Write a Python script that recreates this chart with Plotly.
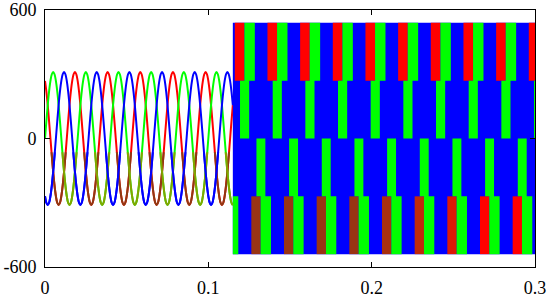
import plotly.graph_objects as go

# ---------------- data ----------------
# one 50 Hz cycle of the phase voltage, sampled every 15 degrees (V)
CYCLE_SAMPLES = [0, 80, 156, 220, 269, 300, 311, 300, 269, 220, 156, 80,
                 0, -80, -156, -220, -269, -300, -311, -300, -269, -220, -156, -80]
PERIOD = 0.02            # s
SINE_END = 0.115         # s, end of the sinusoidal part
PHASE_SHIFT_STEPS = {"green": 0, "blue": -8, "red": 8}   # 120 degree shifts (in samples)
DARK_BELOW = -64         # below this level the picture shows darkened red / green

# switching part
PWM_START = 0.115
PWM_END = 0.3
PWM_LEVEL_TOP = 540
PWM_FIRST_EDGE = 0.1162  # first rising edge of red top block
# blocks inside one period: (band low, band high, start fraction, end fraction)
RED_LO = [270, -540]
RED_HI = [540, -270]
RED_F0 = [0.0, 0.506]
RED_F1 = [0.294, 0.791]
GREEN_LO = [270, 0, -270, -540]
GREEN_HI = [540, 270, 0, -270]
GREEN_F0 = [0.294, 0.16, 0.663, 0.791]
GREEN_F1 = [0.613, 0.44, 0.936, 1.107]
# colour of the lowest red block, period by period (brownish in the early periods)
LOW_RED_COLORS = ["#9a3414", "#9a3414", "#9a3414", "#9a3414", "#a8300f",
                  "#c02a0c", "#dc1a06", "#ff0000", "#ff0000", "#ff0000"]

X_TICKS = [0, 0.1, 0.2, 0.3]
X_TICK_TEXT = ["0", "0.1", "0.2", "0.3"]
Y_TICKS = [-600, 0, 600]
Y_TICK_TEXT = ["-600", "0", "600"]

COLORS = {"red": "#ff0000", "green": "#00ff00", "blue": "#0000ff"}
DARK_COLORS = {"red": "#8e3a12", "green": "#84a400", "blue": "#0000ff"}

# ---------------- build figure ----------------
fig = go.Figure()

n_steps = len(CYCLE_SAMPLES)
dt = PERIOD / n_steps
n_total = int(round(SINE_END / dt))
sine = {}
for name in ["red", "green", "blue"]:
    sh = PHASE_SHIFT_STEPS[name]
    xs = [i * dt for i in range(n_total + 1)]
    ys = [CYCLE_SAMPLES[(i + sh) % n_steps] for i in range(n_total + 1)]
    sine[name] = (xs, ys)
    fig.add_trace(go.Scatter(x=xs, y=ys, mode="lines",
                             line=dict(color=COLORS[name], width=2, shape="spline"),
                             showlegend=False, hoverinfo="skip"))

# darker copies, clipped to the lower part by a second (hidden) y axis
for name in ["red", "green", "blue"]:
    xs, ys = sine[name]
    fig.add_trace(go.Scatter(x=xs, y=ys, mode="lines", xaxis="x", yaxis="y2",
                             line=dict(color=DARK_COLORS[name], width=2, shape="spline"),
                             showlegend=False, hoverinfo="skip"))

# blue background of the switching region
fig.add_trace(go.Scatter(
    x=[PWM_START, PWM_END, PWM_END, PWM_START, PWM_START],
    y=[-PWM_LEVEL_TOP, -PWM_LEVEL_TOP, PWM_LEVEL_TOP, PWM_LEVEL_TOP, -PWM_LEVEL_TOP],
    mode="lines", fill="toself", fillcolor=COLORS["blue"], line=dict(width=0),
    showlegend=False, hoverinfo="skip"))


def blocks(lo, hi, f0, f1, k):
    xs, ys = [], []
    base = PWM_FIRST_EDGE + k * PERIOD
    for a, b, s, e in zip(lo, hi, f0, f1):
        t0 = max(base + s * PERIOD, PWM_START)
        t1 = min(base + e * PERIOD, PWM_END)
        if t1 > t0:
            xs += [t0, t1, t1, t0, t0, None]
            ys += [a, a, b, b, a, None]
    return xs, ys


def add_blocks(xs, ys, color):
    if xs:
        fig.add_trace(go.Scatter(x=xs, y=ys, mode="lines", fill="toself",
                                 fillcolor=color, line=dict(width=0, color=color),
                                 showlegend=False, hoverinfo="skip"))


gx, gy, rx, ry = [], [], [], []
for k in range(-2, 12):
    bx, by = blocks(GREEN_LO, GREEN_HI, GREEN_F0, GREEN_F1, k)
    gx += bx
    gy += by
    bx, by = blocks(RED_LO[:1], RED_HI[:1], RED_F0[:1], RED_F1[:1], k)
    rx += bx
    ry += by
    bx, by = blocks(RED_LO[1:], RED_HI[1:], RED_F0[1:], RED_F1[1:], k)
    col = LOW_RED_COLORS[min(max(k, 0), len(LOW_RED_COLORS) - 1)]
    add_blocks(bx, by, col)
add_blocks(rx, ry, COLORS["red"])
add_blocks(gx, gy, COLORS["green"])

axis_common = dict(showline=True, linecolor="black", linewidth=1, mirror="ticks",
                   ticks="inside", ticklen=5, tickcolor="black", showgrid=False,
                   zeroline=False, automargin=False,
                   tickfont=dict(family="Times New Roman, Liberation Serif, serif",
                                 size=18, color="black"))

fig.update_xaxes(range=[0, 0.3], tickvals=X_TICKS, ticktext=X_TICK_TEXT,
                 ticklabelstandoff=4, **axis_common)
fig.update_yaxes(range=[-600, 600], tickvals=Y_TICKS, ticktext=Y_TICK_TEXT,
                 ticklabelstandoff=4, **axis_common)

fig.update_layout(
    width=550, height=298, margin=dict(l=45, r=15, t=10, b=31),
    plot_bgcolor="rgba(0,0,0,0)", paper_bgcolor="white",
    yaxis=dict(domain=[0, 1]),
    yaxis2=dict(domain=[0, (600 + DARK_BELOW) / 1200], range=[-600, DARK_BELOW],
                anchor="x", visible=False, showgrid=False, zeroline=False),
)

fig.write_html("out.html", config={"displayModeBar": False},
               post_script="document.body.style.margin='0';document.body.style.padding='0';")
